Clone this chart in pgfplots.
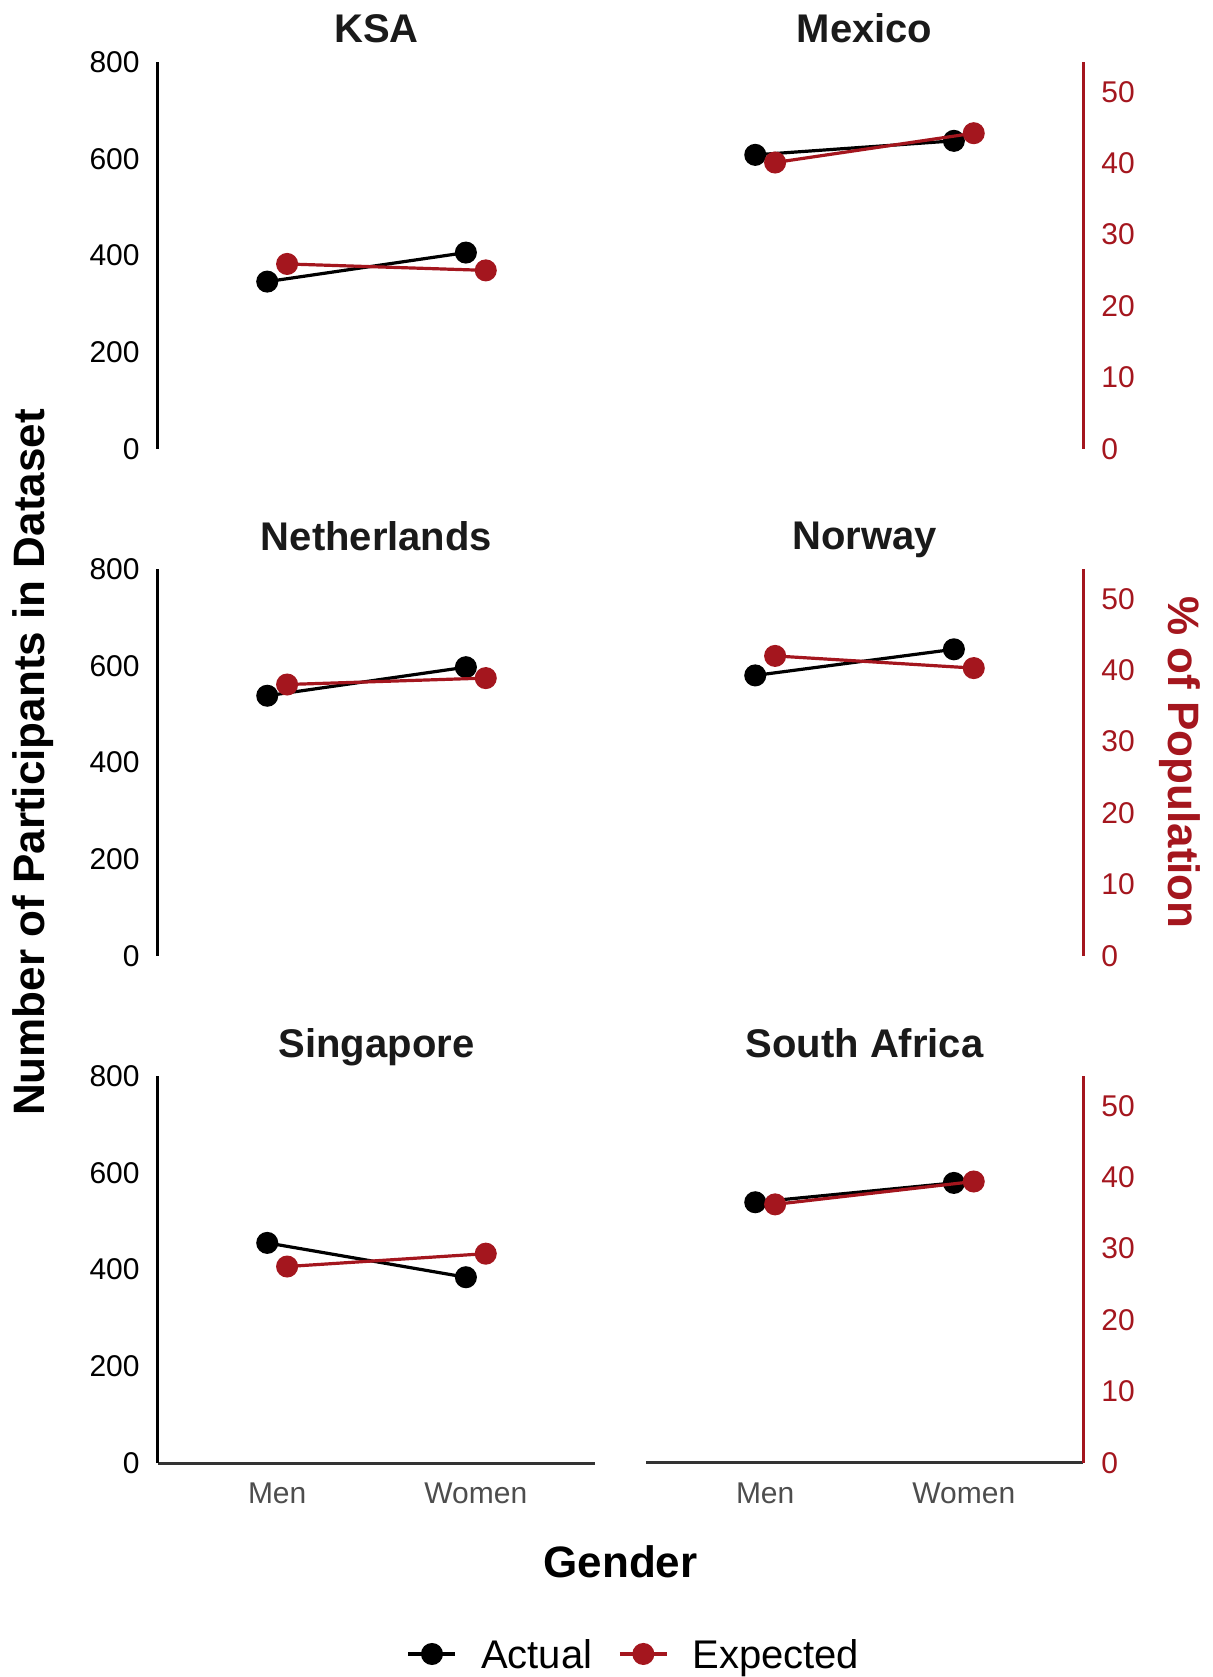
\documentclass[border=0pt]{standalone}
\usepackage{fontspec}
\setmainfont{Liberation Sans}
\usepackage{pgfplots}
\pgfplotsset{compat=1.18}
\definecolor{exred}{RGB}{164,22,30}
\definecolor{xgray}{RGB}{77,77,77}
\definecolor{titlegray}{RGB}{26,26,26}
\definecolor{bottomline}{RGB}{51,51,51}

\pgfplotsset{
  /pgf/number format/assume math mode=true,
  panel/.style={
    scale only axis, width=218.5pt, height=193.5pt,
    anchor=south west,
    xmin=0.4, xmax=2.6,
    xtick={1,2}, xticklabels={Men,Women},
    major tick length=0pt,
    tick style={draw=none},
    clip=false,
    title style={at={(0.5,1)}, anchor=base, yshift=3.5pt,
      font=\fontsize{20}{24}\selectfont\bfseries, text=titlegray},
    xticklabel style={font=\fontsize{15}{18}\selectfont, text=xgray,
      anchor=north, inner sep=0pt, yshift=-9.5pt},
  },
  A/.style={panel, ymin=0, ymax=800},
  B/.style={panel, ymin=0, ymax=54.17, hide x axis},
  leftY/.style={axis y line*=left, ytick={0,200,400,600,800},
    y axis line style={black, line width=1.5pt},
    yticklabel style={font=\fontsize{15}{18}\selectfont, text=black,
      anchor=east, inner sep=0pt, xshift=-9pt}},
  rightY/.style={axis y line*=right, ytick={0,10,20,30,40,50},
    y axis line style={exred, line width=1.5pt},
    yticklabel style={font=\fontsize{15}{18}\selectfont, text=exred,
      anchor=west, inner sep=0pt, xshift=9pt}},
  bottomX/.style={axis x line*=bottom,
    x axis line style={bottomline, line width=1.5pt}},
  actual/.style={black, line width=1.6pt, mark=*, mark size=4.7pt, mark options={solid}},
  expected/.style={exred, line width=1.6pt, mark=*, mark size=4.7pt, mark options={solid}},
}

\begin{document}
\begin{tikzpicture}
\useasboundingbox (0,0) rectangle (606pt,838.5pt);

% ---------------- KSA ----------------
\begin{axis}[A, leftY, hide x axis, at={(79pt,614pt)}, title={KSA}]
\addplot[actual] coordinates {(0.95,346) (1.95,406)};
\end{axis}
\begin{axis}[B, hide y axis, at={(79pt,614pt)}]
\addplot[expected] coordinates {(1.05,25.9) (2.05,25.0)};
\end{axis}

% ---------------- Mexico ----------------
\begin{axis}[A, hide x axis, hide y axis, at={(323pt,614pt)}, title={Mexico}]
\addplot[actual] coordinates {(0.95,608) (1.95,637)};
\end{axis}
\begin{axis}[B, rightY, at={(323pt,614pt)}]
\addplot[expected] coordinates {(1.05,40.1) (2.05,44.2)};
\end{axis}

% ---------------- Netherlands ----------------
\begin{axis}[A, leftY, hide x axis, at={(79pt,360.5pt)}, title={Netherlands}]
\addplot[actual] coordinates {(0.95,538) (1.95,597)};
\node[rotate=90, anchor=center, font=\fontsize{22}{26}\selectfont\bfseries]
  at (rel axis cs:-0.2856,0.5) {Number of Participants in Dataset};
\end{axis}
\begin{axis}[B, hide y axis, at={(79pt,360.5pt)}]
\addplot[expected] coordinates {(1.05,38.0) (2.05,38.9)};
\end{axis}

% ---------------- Norway ----------------
\begin{axis}[A, hide x axis, hide y axis, at={(323pt,360.5pt)}, title={Norway}]
\addplot[actual] coordinates {(0.95,580) (1.95,634)};
\end{axis}
\begin{axis}[B, rightY, at={(323pt,360.5pt)}]
\addplot[expected] coordinates {(1.05,42.0) (2.05,40.3)};
\node[rotate=-90, anchor=center, text=exred, font=\fontsize{22}{26}\selectfont\bfseries]
  at (rel axis cs:1.2215,0.5) {\% of Population};
\end{axis}

% ---------------- Singapore ----------------
\begin{axis}[A, leftY, bottomX, at={(79pt,107pt)}, title={Singapore}]
\addplot[actual] coordinates {(0.95,455) (1.95,384)};
\node[anchor=base, font=\fontsize{22}{26}\selectfont\bfseries]
  at (rel axis cs:1.0584,0) [yshift=-57pt] {Gender};
\end{axis}
\begin{axis}[B, hide y axis, at={(79pt,107pt)},
  legend style={at={(0.5686,-0.4935)}, anchor=west, draw=none, fill=none,
    inner sep=0pt, legend columns=2,
    font=\fontsize{20}{24}\selectfont,
    cells={anchor=center},
    nodes={inner sep=0pt, text depth=0pt},
    /tikz/every odd column/.append style={column sep=12pt},
    /tikz/every even column/.append style={column sep=13pt}},
  legend image code/.code={\draw[mark repeat=2,mark phase=2,#1]
    plot coordinates {(0pt,0pt) (11.75pt,0pt) (23.5pt,0pt)};}]
\addlegendimage{actual}
\addlegendentry{Actual}
\addplot[expected] coordinates {(1.05,27.5) (2.05,29.3)};
\addlegendentry{Expected}
\end{axis}

% ---------------- South Africa ----------------
\begin{axis}[A, bottomX, hide y axis, at={(323pt,107pt)}, title={South Africa}]
\addplot[actual] coordinates {(0.95,539) (1.95,579)};
\end{axis}
\begin{axis}[B, rightY, at={(323pt,107pt)}]
\addplot[expected] coordinates {(1.05,36.2) (2.05,39.4)};
\end{axis}

\end{tikzpicture}
\end{document}
